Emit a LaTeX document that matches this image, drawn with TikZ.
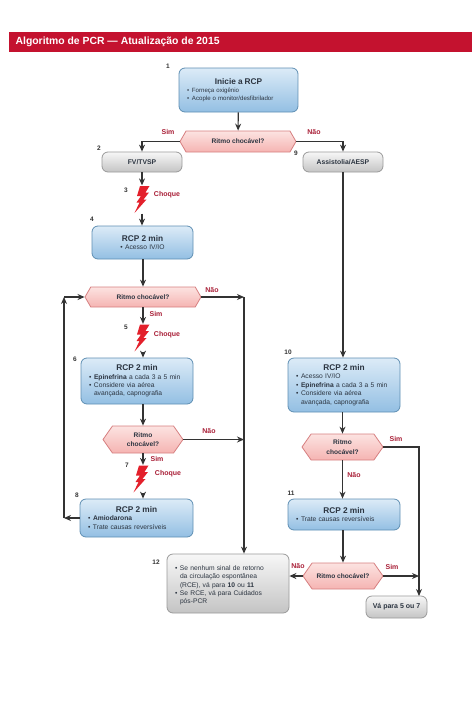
\documentclass[tikz,border=0pt]{standalone}
\usepackage{fontspec}
\setmainfont{Liberation Sans}
\usetikzlibrary{arrows.meta, shapes.symbols}
\definecolor{cheader}{HTML}{C4122F}
\definecolor{clabel}{HTML}{A81E36}
\definecolor{cline}{HTML}{333333}
\definecolor{ctext}{HTML}{2B3440}
\definecolor{cbolt}{HTML}{E3202B}
\definecolor{cbluetop}{HTML}{DCEBF7}
\definecolor{cbluebot}{HTML}{93BFE3}
\definecolor{cblueline}{HTML}{5F8FB3}
\definecolor{cgreytop}{HTML}{F7F7F7}
\definecolor{cgreybot}{HTML}{C4C4C4}
\definecolor{cgreyline}{HTML}{9A9A9A}
\definecolor{cpinktop}{HTML}{FCE3E1}
\definecolor{cpinkbot}{HTML}{F5B4B2}
\definecolor{cpinkline}{HTML}{D67F80}
\newcommand{\hd}[1]{{\centering\fontsize{8.3}{9.6}\selectfont\bfseries #1\par}}
\newcommand{\itm}{\par\noindent\makebox[5pt][l]{\textbullet}}
\newcommand{\cnt}{\par\noindent\hspace*{5pt}}
\newcommand{\boltat}[3]{%
  \node[boltnode] (#1) at (#2,#3) {};
  \fill[cbolt, shift={(#2,#3)}] (-2,-13.5) -- (7.5,-13.5) -- (3.5,-7) -- (7,-7) -- (1.5,0) -- (4.5,0)
    -- (-7.5,13.5) -- (-2.5,3) -- (-5.5,3) -- (-1,-3.5) -- (-5,-3.5) -- cycle;}
\tikzset{
  every picture/.style={line width=1.2pt},
  rcpbox/.style={draw=cblueline, top color=cbluetop, bottom color=cbluebot, rounded corners=6pt, line width=.8pt,
    text=ctext, text width=#1, align=left, inner xsep=8pt, inner ysep=3pt, font=\fontsize{6.7}{8.4}\selectfont},
  greybox/.style={draw=cgreyline, top color=cgreytop, bottom color=cgreybot, rounded corners=6pt, line width=.8pt,
    text=ctext, align=center, inner sep=2pt, font=\fontsize{6.8}{8.2}\selectfont\bfseries},
  ritmo/.style={signal, signal to=east and west, draw=cpinkline, top color=cpinktop, bottom color=cpinkbot, line width=.8pt,
    text=ctext, align=center, inner sep=0pt, font=\fontsize{6.6}{9.4}\selectfont\bfseries},
  boltnode/.style={minimum width=15pt, minimum height=27pt, inner sep=0pt},
  arrow/.style={-{Stealth[length=7pt, width=6pt]}, draw=cline, line width=1.1pt},
  num/.style={font=\fontsize{6.5}{7}\selectfont\bfseries, text=cline, inner sep=0pt},
  lab/.style={font=\fontsize{7}{8}\selectfont\bfseries, text=clabel, inner sep=0pt},
}
\begin{document}
\begin{tikzpicture}[x=1pt, y=-1pt]
  \useasboundingbox (0,0) rectangle (474,710);
  \node[fill=cheader, minimum width=463pt, minimum height=20pt, inner sep=0pt] (header) at (240.5,42) {};
  \node[text=white, inner sep=0pt, anchor=west, font=\fontsize{10.4}{12}\selectfont\bfseries] (title) at (15,42) {Algoritmo de PCR — Atualização de 2015};
  % left column
  \node[rcpbox=103pt, minimum height=44pt, font=\fontsize{6.1}{8}\selectfont] (inicie) at (238.5,90) {\hd{Inicie a RCP}\itm Forneça oxigênio\itm Acople o monitor/desfibrilador};
  \node[ritmo, minimum width=116pt, minimum height=21pt, signal pointer angle=120] (ritmo1) at (238,141.5) {Ritmo chocável?};
  \node[greybox, minimum width=80pt, minimum height=20pt] (fv) at (142,162) {FV/TVSP};
  \node[greybox, minimum width=80pt, minimum height=20pt] (assistolia) at (343,162) {Assistolia/AESP};
  \boltat{bolt3}{142}{199.5}
  \node[rcpbox=85pt, minimum height=33pt, align=center] (rcp4) at (142.5,242.5) {\hd{RCP 2 min}• Acesso IV/IO};
  \node[ritmo, minimum width=116pt, minimum height=20pt, signal pointer angle=120] (ritmo2) at (143,297) {Ritmo chocável?};
  \boltat{bolt5}{142}{338}
  \node[rcpbox=96pt, minimum height=46pt] (rcp6) at (137,381) {\hd{RCP 2 min}\itm \textbf{Epinefrina} a cada 3 a 5 min\itm Considere via aérea\cnt avançada, capnografia};
  \node[ritmo, minimum width=80pt, minimum height=27pt, signal pointer angle=110] (ritmo3) at (143,439.5) {Ritmo\\chocável?};
  \boltat{bolt7}{141}{479}
  \node[rcpbox=97pt, minimum height=38pt] (rcp8) at (136.5,518) {\hd{RCP 2 min}\itm \textbf{Amiodarona}\itm Trate causas reversíveis};
  \node[rcpbox=106pt, minimum height=59pt, draw=cgreyline, top color=cgreytop, bottom color=cgreybot, inner xsep=8pt] (rcp12) at (228,583.5) {\itm Se nenhum sinal de retorno\cnt da circulação espontânea\cnt (RCE), vá para \textbf{10} ou \textbf{11}\itm Se RCE, vá para Cuidados\cnt pós-PCR};
  % right column
  \node[rcpbox=96pt, minimum height=54pt] (rcp10) at (344,385) {\hd{RCP 2 min}\itm Acesso IV/IO\itm \textbf{Epinefrina} a cada 3 a 5 min\itm Considere via aérea\cnt avançada, capnografia};
  \node[ritmo, minimum width=81pt, minimum height=26pt, signal pointer angle=110] (ritmo4) at (342.5,447) {Ritmo\\chocável?};
  \node[rcpbox=96pt, minimum height=31pt] (rcp11) at (344,514.5) {\hd{RCP 2 min}\itm Trate causas reversíveis};
  \node[ritmo, minimum width=80pt, minimum height=26pt, signal pointer angle=110] (ritmo5) at (343,576) {Ritmo chocável?};
  \node[greybox, minimum width=61pt, minimum height=22pt, font=\fontsize{7}{8.2}\selectfont\bfseries] (vaipara) at (396.5,607) {Vá para 5 ou 7};
  \coordinate (loopb) at (64,518);
  \coordinate (loopt) at (64,297);
  \coordinate (juncd) at (244,297);
  \coordinate (junce) at (244,439.5);
  \coordinate (juncf) at (419,576);
  \coordinate (juncg) at (419,596);
  \draw[arrow] (inicie) -- (ritmo1);
  \draw[arrow] (ritmo1.west) -| (fv.north);
  \draw[arrow] (ritmo1.east) -| (assistolia.north);
  \draw[arrow] (fv.south) -- (bolt3.north);
  \draw[arrow] (bolt3.south) -- (rcp4.north -| bolt3.south);
  \draw[arrow] (rcp4.south -| ritmo2.north) -- (ritmo2.north);
  \draw[arrow] (ritmo2.south) -- (bolt5.north -| ritmo2.south);
  \draw[arrow] (bolt5.south -| ritmo2.south) -- (rcp6.north -| ritmo2.south);
  \draw[arrow] (rcp6.south -| ritmo3.north) -- (ritmo3.north);
  \draw[arrow] (ritmo3.south) -- (bolt7.north -| ritmo3.south);
  \draw[arrow] (bolt7.south -| ritmo3.south) -- (rcp8.north -| ritmo3.south);
  \draw[arrow] (rcp8.west) -- (loopb);
  \draw[arrow] (loopb) -- (loopt);
  \draw[arrow] (loopt) -- (ritmo2.west);
  \draw[arrow] (ritmo2.east) -- (juncd);
  \draw[arrow] (juncd) -- (juncd |- rcp12.north);
  \draw[arrow] (ritmo3.east) -- (junce);
  \draw[arrow] (assistolia.south) -- (assistolia.south |- rcp10.north);
  \draw[arrow] (rcp10.south -| ritmo4.north) -- (ritmo4.north);
  \draw[arrow] (ritmo4.south) -- (ritmo4.south |- rcp11.north);
  \draw[arrow] (rcp11.south -| ritmo5.north) -- (ritmo5.north);
  \draw[arrow] (ritmo5.west) -- (ritmo5.west -| rcp12.east);
  \draw[arrow] (ritmo5.east) -- (juncf);
  \draw[arrow] (ritmo4.east) -| (juncg);
  % step numbers
  \node[num] (n1) at (168,66) {1};
  \node[num] (n2) at (99,148) {2};
  \node[num] (n3) at (126,190) {3};
  \node[num] (n4) at (92,219) {4};
  \node[num] (n5) at (126,327) {5};
  \node[num] (n6) at (75,359) {6};
  \node[num] (n7) at (127,465) {7};
  \node[num] (n8) at (77,495) {8};
  \node[num] (n9) at (296,153) {9};
  \node[num] (n10) at (288,352) {10};
  \node[num] (n11) at (291,493) {11};
  \node[num] (n12) at (156,562) {12};
  % branch labels
  \node[lab] (sim1) at (168,132) {Sim};
  \node[lab] (nao1) at (314,132) {Não};
  \node[lab] (choque3) at (167,195) {Choque};
  \node[lab] (nao2) at (212,290) {Não};
  \node[lab] (sim2) at (156,314) {Sim};
  \node[lab] (choque5) at (167,335) {Choque};
  \node[lab] (nao3) at (209,431) {Não};
  \node[lab] (sim3) at (157,459) {Sim};
  \node[lab] (choque7) at (168,474) {Choque};
  \node[lab] (sim4) at (396,439) {Sim};
  \node[lab] (nao4) at (354,475) {Não};
  \node[lab] (nao5) at (298,566) {Não};
  \node[lab] (sim5) at (392,567) {Sim};
\end{tikzpicture}
\end{document}
